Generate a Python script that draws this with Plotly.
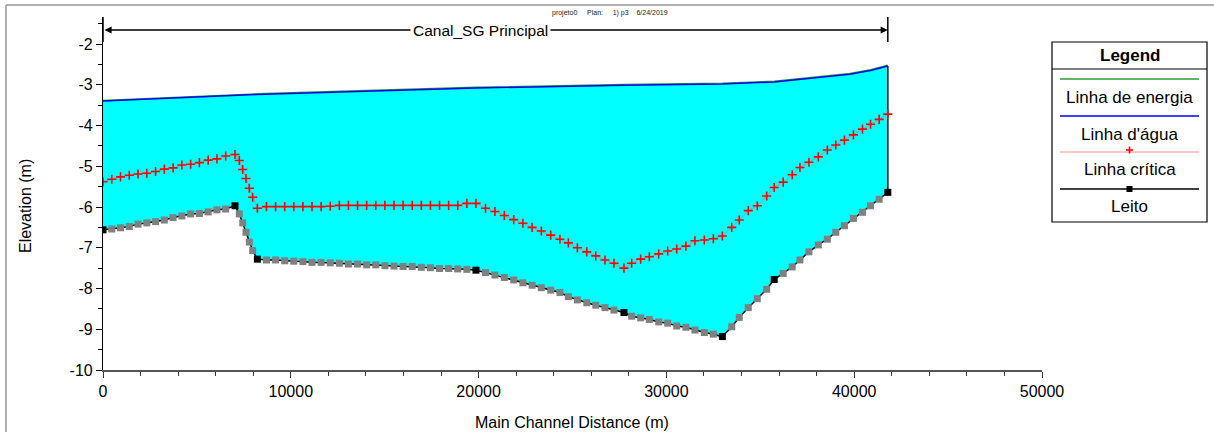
import plotly.graph_objects as go

# ---------------- data ----------------
# Main cross-section stations (black markers)
main_stations = [0, 7030, 8220, 19860, 27740, 32980, 35740, 41790]

# All cross-sections (main + interpolated)
stations = [
    0, 467, 933, 1400, 1867, 2333, 2800, 3267, 3733, 4200, 4667, 5133, 5600, 6067, 6533,
    7030, 7258, 7440, 7615, 7790, 7970,
    8220, 8705, 9190, 9675, 10160, 10645, 11130, 11615, 12100, 12585, 13070, 13555,
    14040, 14525, 15010, 15495, 15980, 16465, 16950, 17435, 17920, 18405, 18890, 19375,
    19860, 20370, 20870, 21370, 21870, 22360, 22850, 23340, 23840, 24330, 24780, 25260,
    25760, 26240, 26730, 27210,
    27740, 28150, 28630, 29090, 29590, 30070, 30550, 31040, 31520, 32020, 32500,
    32980, 33480, 33880, 34360, 34840, 35340,
    35740, 36220, 36700, 37110, 37590, 38090, 38570, 39020, 39480, 39960, 40440, 40870, 41330,
    41790,
]

bed = [
    -6.56, -6.54, -6.51, -6.48, -6.42, -6.39, -6.36, -6.32, -6.26, -6.22, -6.17, -6.16, -6.12, -6.07, -6.05,
    -5.97, -6.17, -6.39, -6.62, -6.86, -7.07,
    -7.28, -7.30, -7.30, -7.32, -7.33, -7.34, -7.36, -7.36, -7.37, -7.38, -7.40, -7.40,
    -7.42, -7.42, -7.44, -7.45, -7.46, -7.46, -7.48, -7.49, -7.51, -7.51, -7.52, -7.53,
    -7.55, -7.61, -7.67, -7.73, -7.79, -7.86, -7.92, -7.98, -8.04, -8.10, -8.20, -8.28,
    -8.35, -8.41, -8.47, -8.53,
    -8.59, -8.68, -8.72, -8.76, -8.82, -8.85, -8.92, -8.95, -9.02, -9.08, -9.12,
    -9.18, -8.94, -8.71, -8.47, -8.25, -8.02,
    -7.78, -7.63, -7.47, -7.30, -7.10, -6.93, -6.79, -6.62, -6.46, -6.28, -6.13, -5.97, -5.81,
    -5.64,
]

critical = [
    -5.38, -5.32, -5.26, -5.22, -5.19, -5.17, -5.13, -5.07, -5.04, -4.97, -4.95, -4.91, -4.85, -4.82, -4.75,
    -4.71, -4.86, -5.08, -5.30, -5.54, -5.76,
    -6.03, -5.99, -5.99, -5.99, -5.99, -5.99, -5.99, -5.99, -5.98, -5.96, -5.96, -5.96,
    -5.96, -5.96, -5.96, -5.96, -5.96, -5.96, -5.96, -5.96, -5.96, -5.96, -5.96, -5.91,
    -5.91, -6.03, -6.11, -6.21, -6.31, -6.40, -6.50, -6.59, -6.69, -6.79, -6.88, -7.00,
    -7.10, -7.20, -7.30, -7.38,
    -7.50, -7.38, -7.28, -7.22, -7.15, -7.08, -7.03, -6.96, -6.83, -6.81, -6.78,
    -6.71, -6.50, -6.32, -6.09, -5.97, -5.73,
    -5.52, -5.39, -5.21, -5.03, -4.90, -4.77, -4.60, -4.48, -4.36, -4.23, -4.09, -3.97, -3.85,
    -3.72,
]

ws_stations = [0, 3500, 7030, 8220, 14000, 19860, 27740, 32980, 35740, 37110, 38570, 39770, 40870, 41790]
water_surface = [-3.40, -3.33, -3.27, -3.24, -3.16, -3.08, -3.01, -2.98, -2.93, -2.87, -2.81, -2.74, -2.65, -2.54]
energy = [-3.38, -3.31, -3.25, -3.22, -3.14, -3.06, -2.99, -2.96, -2.91, -2.85, -2.79, -2.72, -2.63, -2.52]

x_ticks = [0, 10000, 20000, 30000, 40000, 50000]
x_tick_labels = ["0", "10000", "20000", "30000", "40000", "50000"]
y_ticks = [-10, -9, -8, -7, -6, -5, -4, -3, -2]
y_tick_labels = ["-10", "-9", "-8", "-7", "-6", "-5", "-4", "-3", "-2"]

reach_label = "Canal_SG Principal"
header_text = "projeto0&nbsp;&nbsp;&nbsp;&nbsp;&nbsp;Plan:&nbsp;&nbsp;&nbsp;&nbsp;&nbsp;1) p3&nbsp;&nbsp;&nbsp;&nbsp;6/24/2019"
legend_items = ["Linha de energia", "Linha d'água", "Linha crítica", "Leito"]

# ---------------- layout geometry ----------------
W, H = 1214, 432
L, R, T, B = 103, 1042, 17, 370
FONT = "Liberation Sans, Arial, sans-serif"


def px(xp):
    return (xp - L) / (R - L)


def py(yp):
    return (B - yp) / (B - T)


def text_ann(xp, yp, text, size, **kw):
    d = dict(x=px(xp), y=py(yp), xref="paper", yref="paper", text=text,
             showarrow=False, xanchor="center", yanchor="middle",
             font=dict(family=FONT, size=size, color=kw.pop("color", "black")))
    d.update(kw)
    return d


fig = go.Figure()

# water fill
fig.add_trace(go.Scatter(
    x=stations + ws_stations[::-1], y=bed + water_surface[::-1],
    fill="toself", fillcolor="#00FFFF", mode="lines", line=dict(width=0),
    hoverinfo="skip", showlegend=False))

# right end vertical line
fig.add_trace(go.Scatter(
    x=[stations[-1], ws_stations[-1]], y=[bed[-1], water_surface[-1]],
    mode="lines", line=dict(color="black", width=1.5), showlegend=False))

# energy line
fig.add_trace(go.Scatter(x=ws_stations, y=energy, mode="lines",
                         line=dict(color="#2e9e2e", width=1.2), showlegend=False))
# water surface
fig.add_trace(go.Scatter(x=ws_stations, y=water_surface, mode="lines",
                         line=dict(color="#0000EE", width=1.5), showlegend=False))
# critical
fig.add_trace(go.Scatter(x=stations, y=critical, mode="lines+markers",
                         line=dict(color="#a09a9a", width=1),
                         marker=dict(symbol="cross-thin", size=6.5,
                                     line=dict(color="#FF0000", width=1.6)),
                         showlegend=False))
# bed
bed_colors = ["black" if s in main_stations else "#808080" for s in stations]
fig.add_trace(go.Scatter(x=stations, y=bed, mode="lines+markers",
                         line=dict(color="black", width=1.5),
                         marker=dict(symbol="square", size=7, color=bed_colors,
                                     line=dict(width=0)),
                         showlegend=False))

shapes = []
annotations = []

# outer gray frame (top and left)
shapes.append(dict(type="line", xref="paper", yref="paper",
                   x0=px(6), x1=px(1214), y0=py(5), y1=py(5),
                   line=dict(color="#b0b0b0", width=2)))
shapes.append(dict(type="line", xref="paper", yref="paper",
                   x0=px(6), x1=px(6), y0=py(5), y1=py(432),
                   line=dict(color="#b0b0b0", width=2)))

# reach span markers
y_top_tick = -2 + (44 - 17) / 40.75
y_bot_tick = -2 + (44 - 42) / 40.75
y_arrow = -2 + (44 - 30) / 40.75
for s in (main_stations[0], main_stations[-1]):
    shapes.append(dict(type="line", xref="x", yref="y", x0=s, x1=s,
                       y0=y_bot_tick, y1=y_top_tick,
                       line=dict(color="black", width=1.5)))
annotations.append(dict(x=main_stations[-1], y=y_arrow, ax=main_stations[0], ay=y_arrow,
                        xref="x", yref="y", axref="x", ayref="y", text="",
                        showarrow=True, arrowside="end+start", arrowhead=2,
                        arrowsize=1.1, arrowwidth=1.3, arrowcolor="black"))
annotations.append(dict(x=20100, y=y_arrow, xref="x", yref="y", text=reach_label,
                        showarrow=False, bgcolor="white", borderpad=2,
                        xanchor="center", yanchor="middle",
                        font=dict(family=FONT, size=15.5, color="black")))
annotations.append(text_ann(610, 13, header_text, 7, color="#222"))

# axis titles
annotations.append(text_ann(572, 422, "Main Channel Distance (m)", 16))
annotations.append(text_ann(25, 206, "Elevation (m)", 16, textangle=-90))

# legend box
lx0, lx1, ly0, ly1 = 1052, 1207, 42, 222
shapes.append(dict(type="rect", xref="paper", yref="paper",
                   x0=px(lx0), x1=px(lx1), y0=py(ly1), y1=py(ly0),
                   line=dict(color="black", width=1.2), fillcolor="white", layer="below"))
shapes.append(dict(type="line", xref="paper", yref="paper",
                   x0=px(lx0), x1=px(lx1), y0=py(69), y1=py(69),
                   line=dict(color="black", width=1.2)))
annotations.append(text_ann(1129.5, 55, "<b>Legend</b>", 17))
line_ys = [79, 116, 152, 189]
text_ys = [97, 134, 169, 206]
line_cols = ["#2e9e2e", "#0000EE", "#FFB4B4", "black"]
for name, lyp, typ, c in zip(legend_items, line_ys, text_ys, line_cols):
    shapes.append(dict(type="line", xref="paper", yref="paper",
                       x0=px(1060), x1=px(1199), y0=py(lyp), y1=py(lyp),
                       line=dict(color=c, width=1.3)))
    annotations.append(text_ann(1129.5, typ, name, 17))
# legend symbols
shapes.append(dict(type="line", xref="paper", yref="paper",
                   x0=px(1126), x1=px(1133), y0=py(150), y1=py(150),
                   line=dict(color="#FF0000", width=1.6)))
shapes.append(dict(type="line", xref="paper", yref="paper",
                   x0=px(1129.5), x1=px(1129.5), y0=py(146.5), y1=py(153.5),
                   line=dict(color="#FF0000", width=1.6)))
shapes.append(dict(type="rect", xref="paper", yref="paper",
                   x0=px(1126.5), x1=px(1132.5), y0=py(192), y1=py(186),
                   line=dict(width=0), fillcolor="black"))

fig.update_layout(
    width=W, height=H,
    margin=dict(l=L, r=W - R, t=T, b=H - B, autoexpand=False),
    paper_bgcolor="white", plot_bgcolor="white",
    showlegend=False,
    shapes=shapes, annotations=annotations,
    font=dict(family=FONT, size=16, color="black"),
)
fig.update_xaxes(
    range=[0, 50000], tickvals=x_ticks, ticktext=x_tick_labels,
    showgrid=False, zeroline=False, showline=True, linecolor="#555", linewidth=2,
    ticks="outside", ticklen=6, tickcolor="#333", tickwidth=1,
    minor=dict(dtick=2000, ticks="outside", ticklen=4, tickcolor="#333", showgrid=False),
    tickfont=dict(family=FONT, size=16), automargin=False,
)
fig.update_yaxes(
    range=[-10, -2 + (44 - 17) / 40.75], tickvals=y_ticks, ticktext=y_tick_labels,
    showgrid=False, zeroline=False, showline=True, linecolor="black", linewidth=1.2,
    ticks="outside", ticklen=6, tickcolor="black", tickwidth=1,
    minor=dict(dtick=0.5, ticks="outside", ticklen=4, tickcolor="black", showgrid=False),
    tickfont=dict(family=FONT, size=16), automargin=False,
)

fig.write_html("out.html")
